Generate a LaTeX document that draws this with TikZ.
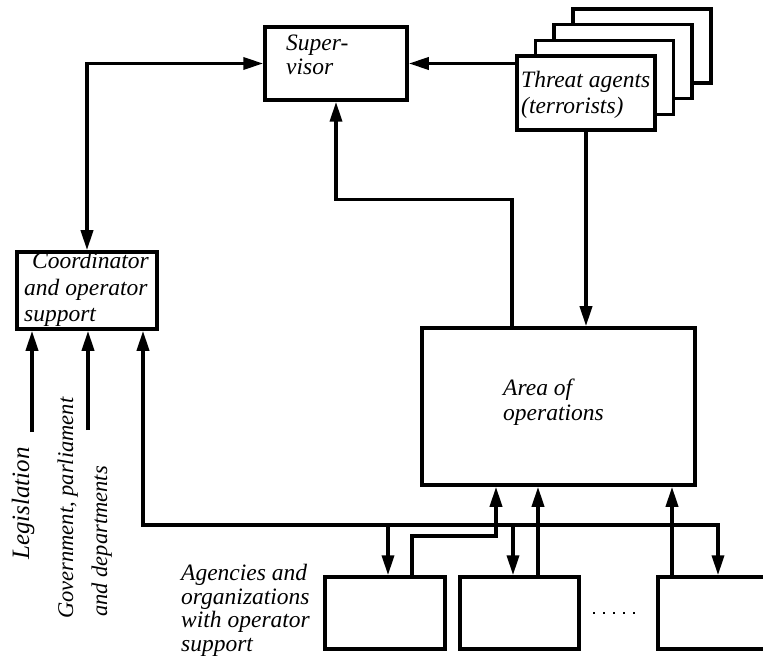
\documentclass[tikz,border=0pt]{standalone}
\usepackage{fontspec}
\setmainfont{Liberation Serif}
\usetikzlibrary{arrows.meta}
\tikzset{
  opbox/.style={draw=black, line width=3.5pt, fill=white, inner sep=0pt},
  opline/.style={line width=3.5pt, draw=black},
  oparrow/.style={opline, -{Triangle[length=20pt,width=12pt]}},
  opboth/.style={opline, {Triangle[length=20pt,width=12pt]}-{Triangle[length=20pt,width=12pt]}},
  optext/.style={font=\itshape\fontsize{23.5}{25}\selectfont, inner sep=0pt, align=left},
}

\begin{document}
\begin{tikzpicture}[x=1pt, y=-1pt]
\clip (0,0) rectangle (763,660);
% stacked threat boxes, back first
\foreach \i in {3,2,1}
  \node[opbox, minimum width=138pt, minimum height=74pt] at (586+18.6*\i, 93-15.7*\i) {};
\node[opbox, minimum width=138pt, minimum height=74pt] (thr) at (586,93) {};
\node[opbox, minimum width=142pt, minimum height=73pt] (sup) at (336,63.5) {};
\node[opbox, minimum width=140pt, minimum height=77pt] (coord) at (87,290.5) {};
\node[opbox, minimum width=273pt, minimum height=157pt] (area) at (558.5,406.5) {};
\node[opbox, minimum width=120pt, minimum height=72pt] (ag1) at (385,613) {};
\node[opbox, minimum width=119pt, minimum height=72pt] (ag2) at (519.5,613) {};
\node[opbox, minimum width=130pt, minimum height=72pt] (ag3) at (723,613) {};

% texts
\node[optext, anchor=north west, font=\itshape\fontsize{23.5}{23.5}\selectfont] (suptxt) at (286,35) {Super-\\visor};
\node[optext, anchor=north west, font=\itshape\fontsize{23.5}{26}\selectfont] (thrtxt) at (521,71) {Threat agents\\(terrorists)};
\node[optext, anchor=north west, font=\itshape\fontsize{23.5}{26.5}\selectfont] (coordtxt) at (24,252) {\hspace{8pt}Coordinator\\and operator\\support};
\node[optext, anchor=north west, font=\itshape\fontsize{23.5}{25}\selectfont] (areatxt) at (503,379) {Area of\\operations};
\node[optext, anchor=north west, font=\itshape\fontsize{23.5}{23.5}\selectfont] (agtxt) at (181,564) {Agencies and\\organizations\\with operator\\support};
\node[optext, rotate=90, anchor=base west, font=\itshape\fontsize{25}{25}\selectfont] (legtxt) at (29,560) {Legislation};
\node[optext, rotate=90, anchor=base west, font=\itshape\fontsize{22.5}{25}\selectfont] (govtxt) at (73,619) {Government, parliament};
\node[optext, rotate=90, anchor=base west, font=\itshape\fontsize{22.5}{25}\selectfont] (deptxt) at (107,617) {and departments};
\draw[line width=2pt, dash pattern=on 2pt off 8pt] (593,613) -- (636,613);

% connectors
\draw[oparrow] (thr.west |- sup.east) -- (sup.east);
\draw[opboth] (sup.west) -| (coord.north);
\draw[oparrow] ([xshift=-46.5pt]area.north) |- ([yshift=-98pt]sup.south) -- (sup.south);
\draw[oparrow] (thr.south) -- (thr.south |- area.north);
\coordinate (legstart) at (32,432);
\coordinate (govstart) at (88,430);
\draw[oparrow] (legstart) -- (legstart |- coord.south);
\draw[oparrow] (govstart) -- (govstart |- coord.south);
\coordinate (busL) at (143,525);
\coordinate (busR) at (718,525);
\draw[opboth] (busL |- coord.south) -- (busL) -- (busR) -- (busR |- ag3.north);
\coordinate (drop1) at (388,525);
\coordinate (drop2) at (513,525);
\draw[oparrow] (drop1) -- (drop1 |- ag1.north);
\draw[oparrow] (drop2) -- (drop2 |- ag2.north);
\coordinate (rise1) at (412,536);
\coordinate (bend1) at (496,536);
\coordinate (rise2) at (538,550);
\coordinate (rise3) at (672,550);
\draw[oparrow] (rise1 |- ag1.north) -- (rise1) -- (bend1) -- (bend1 |- area.south);
\draw[oparrow] (rise2 |- ag2.north) -- (rise2 |- area.south);
\draw[oparrow] (rise3 |- ag3.north) -- (rise3 |- area.south);
\end{tikzpicture}
\end{document}
